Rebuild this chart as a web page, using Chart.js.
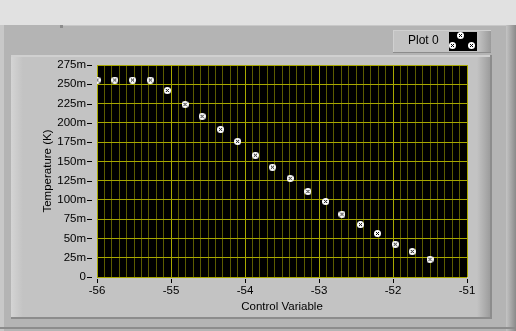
<!DOCTYPE html>
<html lang="en">
<head>
<meta charset="UTF-8">
<title>Temperature vs Control Variable</title>
<script src="https://cdn.jsdelivr.net/npm/chart.js"></script>
<style>
    body { margin: 0; background: #e1e1e1; }
    #wrap { width: 516px; height: 331px; }
</style>
</head>
<body>
<div id="wrap"><canvas id="graph" width="516" height="331"></canvas></div>
<script>
    // values (x = control variable, y = temperature in mK)
    const controlVar = [-56.0, -55.76, -55.52, -55.28, -55.05, -54.81, -54.58, -54.33, -54.1, -53.86,
                        -53.63, -53.39, -53.15, -52.91, -52.69, -52.44, -52.21, -51.97, -51.74, -51.5];
    const tempMilliK = [255.5, 255.5, 255.5, 255.5, 242, 224, 208.5, 191.5, 176, 158,
                        142.5, 128, 111, 98, 81.5, 68, 56.5, 42.5, 33, 23];
    const xTicks = [-56, -55, -54, -53, -52, -51];
    const yTicks = [0, 25, 50, 75, 100, 125, 150, 175, 200, 225, 250, 275];
    const plotName = 'Plot 0';

    const FONT = 'Liberation Sans';
    const majorGrid = '#a8a800';
    const minorGrid = '#5c5c00';

    // LabVIEW style marker: white dot with a black x
    function makeMarker() {
        const c = document.createElement('canvas');
        c.width = 7; c.height = 7;
        const g = c.getContext('2d');
        g.fillStyle = '#fff';
        g.beginPath(); g.arc(3.5, 3.5, 3.5, 0, Math.PI * 2); g.fill();
        g.strokeStyle = '#000'; g.lineWidth = 1;
        g.beginPath();
        g.moveTo(2, 2); g.lineTo(5, 5);
        g.moveTo(5, 2); g.lineTo(2, 5);
        g.stroke();
        return c;
    }
    const marker = makeMarker();

    const isWhole = v => Math.abs(v - Math.round(v)) < 1e-6;

    const frame = {
        id: 'frame',
        beforeDraw(chart) {
            const g = chart.ctx, a = chart.chartArea;
            g.save();
            g.fillStyle = '#e1e1e1'; g.fillRect(0, 0, 516, 331);
            // outer frame
            g.fillStyle = '#b4b4b4'; g.fillRect(0, 25, 516, 306);
            g.fillStyle = '#c8c8c8'; g.fillRect(0, 25, 4, 306); g.fillRect(62, 25, 454, 1);
            g.fillStyle = '#8c8c8c'; g.fillRect(60, 25, 3, 3);
            let gr = g.createLinearGradient(506, 0, 516, 0);
            gr.addColorStop(0, '#c4c4c4'); gr.addColorStop(1, '#8a8a8a');
            g.fillStyle = gr; g.fillRect(506, 25, 10, 306);
            g.fillStyle = '#8c8c8c'; g.fillRect(0, 327, 516, 2);
            // inner panel
            g.fillStyle = '#c3c3c3'; g.fillRect(11, 55, 480, 263);
            gr = g.createLinearGradient(11, 0, 23, 0);
            gr.addColorStop(0, '#d4d4d4'); gr.addColorStop(1, '#c3c3c3');
            g.fillStyle = gr; g.fillRect(11, 55, 12, 263);
            gr = g.createLinearGradient(477, 0, 491, 0);
            gr.addColorStop(0, '#c3c3c3'); gr.addColorStop(1, '#9a9a9a');
            g.fillStyle = gr; g.fillRect(477, 55, 14, 263);
            g.fillStyle = '#d0d0d0'; g.fillRect(11, 55, 480, 2);
            g.fillStyle = '#8c8c8c'; g.fillRect(11, 317, 481, 2); g.fillRect(490, 55, 2, 264);
            // legend box
            g.fillStyle = '#c3c3c3'; g.fillRect(393, 30, 98, 22);
            gr = g.createLinearGradient(478, 0, 491, 0);
            gr.addColorStop(0, '#c3c3c3'); gr.addColorStop(1, '#9a9a9a');
            g.fillStyle = gr; g.fillRect(478, 30, 13, 22);
            g.fillStyle = '#d0d0d0'; g.fillRect(393, 30, 98, 1); g.fillRect(393, 30, 1, 22);
            g.fillStyle = '#8c8c8c'; g.fillRect(393, 52, 98, 1);
            g.fillStyle = '#000'; g.fillRect(449, 32, 28, 19);
            g.drawImage(marker, 457, 32); g.drawImage(marker, 449, 42); g.drawImage(marker, 468, 42);
            g.fillStyle = '#000'; g.font = '12px ' + FONT;
            g.textAlign = 'left'; g.textBaseline = 'middle';
            g.fillText(plotName, 408, 41);
            // plot background
            g.fillStyle = '#000'; g.fillRect(a.left, a.top, a.right - a.left, a.bottom - a.top);
            g.restore();
        },
        afterDraw(chart) {
            const g = chart.ctx, a = chart.chartArea;
            const sx = chart.scales.x, sy = chart.scales.y;
            g.save();
            g.strokeStyle = '#000'; g.lineWidth = 1;
            g.beginPath();
            yTicks.forEach(v => {
                const y = Math.round(sy.getPixelForValue(v)) + 0.5;
                g.moveTo(a.left - 10, y); g.lineTo(a.left - 5, y);
            });
            xTicks.forEach(v => {
                const x = Math.round(sx.getPixelForValue(v)) + 0.5;
                g.moveTo(x, a.bottom + 2); g.lineTo(x, a.bottom + 6);
            });
            g.stroke();
            g.restore();
        }
    };

    new Chart(document.getElementById('graph'), {
        type: 'scatter',
        data: {
            datasets: [{
                label: plotName,
                data: controlVar.map((x, i) => ({ x: x, y: tempMilliK[i] })),
                pointStyle: marker,
                pointRadius: 3.5,
                showLine: false,
                clip: 0
            }]
        },
        options: {
            responsive: false,
            animation: false,
            events: [],
            layout: { padding: { left: 0, right: 49, top: 65, bottom: 0 } },
            plugins: { legend: { display: false }, tooltip: { enabled: false } },
            scales: {
                x: {
                    type: 'linear', min: -56, max: -51,
                    afterFit: s => { s.height = 54; },
                    border: { display: false },
                    grid: {
                        drawTicks: false,
                        color: c => (c.tick && isWhole(c.tick.value)) ? majorGrid : minorGrid
                    },
                    ticks: {
                        stepSize: 0.1, autoSkip: false, maxRotation: 0, padding: 7,
                        color: '#000', font: { family: FONT, size: 11.5 },
                        callback: v => isWhole(v) && xTicks.includes(Math.round(v)) ? String(Math.round(v)) : ''
                    },
                    title: {
                        display: true, text: 'Control Variable', color: '#000',
                        font: { family: FONT, size: 11.5 }, padding: { top: 0, bottom: 17 }
                    }
                },
                y: {
                    min: 0, max: 275,
                    afterFit: s => { s.width = 97; },
                    border: { display: false },
                    grid: { drawTicks: false, color: majorGrid },
                    ticks: {
                        stepSize: 25, autoSkip: false, padding: 11,
                        color: '#000', font: { family: FONT, size: 11.5 },
                        callback: v => v === 0 ? '0' : v + 'm'
                    },
                    title: {
                        display: true, text: 'Temperature (K)', color: '#000',
                        font: { family: FONT, size: 11.5 }, padding: { top: 41, bottom: 0 }
                    }
                }
            }
        },
        plugins: [frame]
    });
</script>
</body>
</html>
